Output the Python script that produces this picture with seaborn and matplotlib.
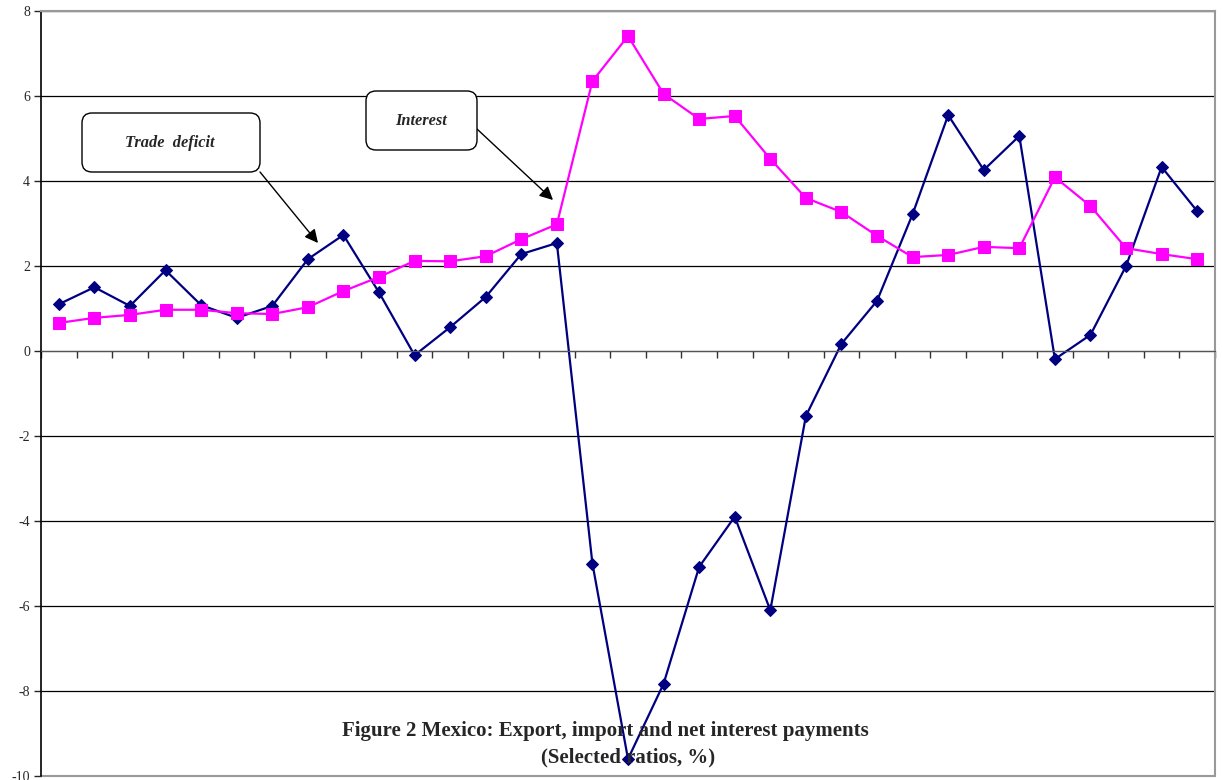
import pandas as pd
import seaborn as sns
import matplotlib.pyplot as plt
import numpy as np
from matplotlib.patches import FancyBboxPatch

# Mexico: trade deficit and net interest payments (selected ratios, %)
periods = list(range(33))
trade_deficit = [1.10, 1.50, 1.06, 1.90, 1.08, 0.78, 1.06, 2.16, 2.73, 1.38,
                 -0.10, 0.56, 1.27, 2.28, 2.54, -5.00, -9.60, -7.83, -5.08, -3.90,
                 -6.10, -1.53, 0.17, 1.18, 3.22, 5.55, 4.26, 5.06, -0.19, 0.38,
                 2.00, 4.33, 3.29]
interest = [0.66, 0.78, 0.85, 0.97, 0.97, 0.89, 0.87, 1.03, 1.41, 1.74,
            2.12, 2.11, 2.23, 2.63, 2.98, 6.35, 7.41, 6.05, 5.46, 5.53,
            4.52, 3.60, 3.27, 2.71, 2.21, 2.26, 2.45, 2.42, 4.09, 3.41,
            2.42, 2.28, 2.16]
y_ticks = [-10, -8, -6, -4, -2, 0, 2, 4, 6, 8]

sns.set_style("white")
plt.rcParams['font.family'] = ['Liberation Serif', 'DejaVu Serif']

fig = plt.figure(figsize=(12.22, 7.80), dpi=100)
ax = fig.add_axes([41 / 1222, 4 / 780, 1174 / 1222, 765 / 780])

sns.lineplot(x=periods, y=trade_deficit, ax=ax, color='#000080', marker='D',
             markersize=6, markeredgecolor='#000080', linewidth=1.6)
sns.lineplot(x=periods, y=interest, ax=ax, color='#FF00FF', marker='s',
             markersize=8, markeredgecolor='#FF00FF', linewidth=1.6)

ax.set_xlim(-0.5, len(periods) - 0.5)
ax.set_ylim(-10, 8)
ax.set_yticks(y_ticks)
ax.set_yticklabels([str(v) for v in y_ticks], fontsize=10)
ax.tick_params(axis='y', direction='out', length=5, width=1, pad=3, left=True)

# category axis crossing at zero with boundary ticks
ax.spines['bottom'].set_position(('data', 0))
ax.spines['bottom'].set_color('#555555')
ax.set_xticks(np.arange(-0.5, len(periods), 1.0))
ax.set_xticklabels([])
ax.tick_params(axis='x', direction='out', length=5, width=1, color='#333333', bottom=True)

ax.yaxis.grid(True, color='black', linewidth=0.9)
ax.set_axisbelow(True)
ax.spines['left'].set_color('black')
ax.spines['left'].set_linewidth(1.2)
ax.spines['right'].set_color('#999999')
ax.spines['right'].set_linewidth(1.5)
ax.spines['top'].set_color('#999999')
ax.spines['top'].set_linewidth(1.5)
ax.axhline(-10, color='#999999', linewidth=1.5, clip_on=False)

# callout boxes (figure inches)
tr = fig.dpi_scale_trans
for (x0, y0, w, h, label, tx, ty) in [(0.82, 6.08, 1.78, 0.59, 'Trade  deficit', 1.70, 6.37),
                                      (3.66, 6.30, 1.11, 0.59, 'Interest', 4.21, 6.59)]:
    box = FancyBboxPatch((x0, y0), w, h, boxstyle='round,pad=0,rounding_size=0.1',
                         transform=tr, facecolor='white', edgecolor='black',
                         linewidth=1.0, zorder=5)
    fig.patches.append(box)
    fig.text(tx, ty, label, transform=tr, ha='center', va='center', fontsize=11.8,
             fontweight='bold', fontstyle='italic', zorder=6)

for start, end in [((2.60, 6.08), (3.18, 5.37)), ((4.77, 6.51), (5.53, 5.80))]:
    ax.annotate('', xy=end, xycoords=tr, xytext=start, textcoords=tr,
                arrowprops=dict(arrowstyle='-|>', color='black', lw=1.0,
                                mutation_scale=20, shrinkA=0, shrinkB=0))

fig.text(605 / 1222, 1 - 731 / 780, 'Figure 2 Mexico: Export, import and net interest payments',
         ha='center', va='center', fontsize=15, fontweight='bold')
fig.text(628 / 1222, 1 - 757 / 780, '(Selected ratios, %)',
         ha='center', va='center', fontsize=15, fontweight='bold')

fig.savefig('out.png', dpi=100)
